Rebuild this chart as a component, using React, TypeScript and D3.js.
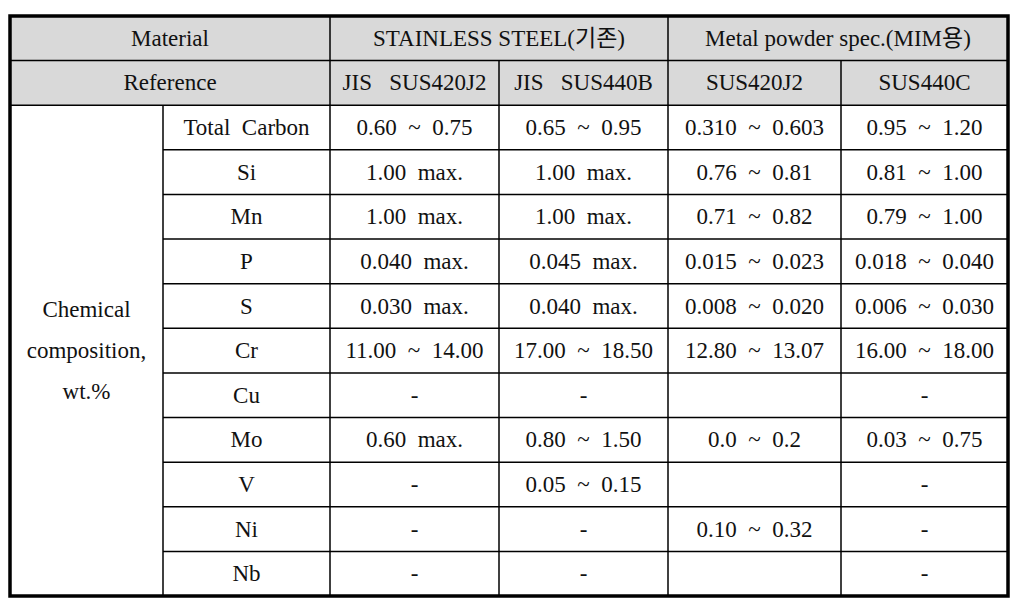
import React from "react";
import * as d3 from "d3";

const headerGroups = ["Material", "STAINLESS STEEL(기존)", "Metal powder spec.(MIM용)"];
const referenceLabel = "Reference";
const references = ["JIS   SUS420J2", "JIS   SUS440B", "SUS420J2", "SUS440C"];
const rowGroupLines = ["Chemical", "composition,", "wt.%"];
const elements = ["Total  Carbon", "Si", "Mn", "P", "S", "Cr", "Cu", "Mo", "V", "Ni", "Nb"];
const jis420 = ["0.60  ~  0.75", "1.00  max.", "1.00  max.", "0.040  max.", "0.030  max.", "11.00  ~  14.00", "-", "0.60  max.", "-", "-", "-"];
const jis440 = ["0.65  ~  0.95", "1.00  max.", "1.00  max.", "0.045  max.", "0.040  max.", "17.00  ~  18.50", "-", "0.80  ~  1.50", "0.05  ~  0.15", "-", "-"];
const mim420 = ["0.310  ~  0.603", "0.76  ~  0.81", "0.71  ~  0.82", "0.015  ~  0.023", "0.008  ~  0.020", "12.80  ~  13.07", "", "0.0  ~  0.2", "", "0.10  ~  0.32", ""];
const mim440 = ["0.95  ~  1.20", "0.81  ~  1.00", "0.79  ~  1.00", "0.018  ~  0.040", "0.006  ~  0.030", "16.00  ~  18.00", "-", "0.03  ~  0.75", "-", "-", "-"];

const W = 1035;
const H = 611;
const colEdges = [10, 163, 330, 499, 668, 841, 1008];
const top = 16;
const bottom = 596;
const font = "Liberation Serif, Times New Roman, DejaVu Serif, Noto Sans CJK KR, serif";
const fs = 23;

export default function App() {
  const rowScale = d3.scaleLinear().domain([0, 13]).range([top, bottom]);
  const valueCols = [jis420, jis440, mim420, mim440];
  const cells: React.ReactNode[] = [];
  const txt = (key: string, x: number, y: number, s: string) => (
    <text key={key} x={x} y={y} textAnchor="middle" dominantBaseline="central" fill="#111" style={{ whiteSpace: "pre", fontFamily: font, fontSize: fs }}>{s}</text>
  );
  const mid = (a: number, b: number) => (a + b) / 2;
  cells.push(txt("h0", mid(colEdges[0], colEdges[2]), mid(rowScale(0), rowScale(1)), headerGroups[0]));
  cells.push(txt("h1", mid(colEdges[2], colEdges[4]), mid(rowScale(0), rowScale(1)), headerGroups[1]));
  cells.push(txt("h2", mid(colEdges[4], colEdges[6]), mid(rowScale(0), rowScale(1)), headerGroups[2]));
  cells.push(txt("r0", mid(colEdges[0], colEdges[2]), mid(rowScale(1), rowScale(2)), referenceLabel));
  references.forEach((r, i) => cells.push(txt("ref" + i, mid(colEdges[i + 2], colEdges[i + 3]), mid(rowScale(1), rowScale(2)), r)));
  const gMid = mid(rowScale(2), rowScale(13));
  rowGroupLines.forEach((l, i) => cells.push(txt("g" + i, mid(colEdges[0], colEdges[1]), gMid + (i - 1) * 41, l)));
  elements.forEach((e, r) => {
    const y = mid(rowScale(r + 2), rowScale(r + 3));
    cells.push(txt("e" + r, mid(colEdges[1], colEdges[2]), y, e));
    valueCols.forEach((col, c) => {
      if (col[r]) cells.push(txt(`v${r}-${c}`, mid(colEdges[c + 2], colEdges[c + 3]), y, col[r]));
    });
  });

  const lines: React.ReactNode[] = [];
  lines.push(<line key="hl1" x1={colEdges[0]} x2={colEdges[6]} y1={rowScale(1)} y2={rowScale(1)} stroke="#000" strokeWidth={1.5} />);
  lines.push(<line key="hl2" x1={colEdges[0]} x2={colEdges[6]} y1={rowScale(2)} y2={rowScale(2)} stroke="#000" strokeWidth={1.5} />);
  for (let r = 3; r < 13; r++) {
    lines.push(<line key={"hr" + r} x1={colEdges[1]} x2={colEdges[6]} y1={rowScale(r)} y2={rowScale(r)} stroke="#000" strokeWidth={1.5} />);
  }
  lines.push(<line key="v1" x1={colEdges[1]} x2={colEdges[1]} y1={rowScale(2)} y2={bottom} stroke="#000" strokeWidth={1.5} />);
  lines.push(<line key="v2" x1={colEdges[2]} x2={colEdges[2]} y1={top} y2={bottom} stroke="#000" strokeWidth={1.5} />);
  lines.push(<line key="v3" x1={colEdges[3]} x2={colEdges[3]} y1={rowScale(1)} y2={bottom} stroke="#000" strokeWidth={1.5} />);
  lines.push(<line key="v4" x1={colEdges[4]} x2={colEdges[4]} y1={top} y2={bottom} stroke="#000" strokeWidth={1.5} />);
  lines.push(<line key="v5" x1={colEdges[5]} x2={colEdges[5]} y1={rowScale(1)} y2={bottom} stroke="#000" strokeWidth={1.5} />);

  return (
    <svg width={W} height={H} style={{ position: "absolute", left: 0, top: 0, background: "#fff" }}>
      <rect x={colEdges[0]} y={top} width={colEdges[6] - colEdges[0]} height={rowScale(2) - top} fill="#d9d9d9" />
      {lines}
      <rect x={colEdges[0]} y={top} width={colEdges[6] - colEdges[0]} height={bottom - top} fill="none" stroke="#000" strokeWidth={3.5} />
      {cells}
    </svg>
  );
}
